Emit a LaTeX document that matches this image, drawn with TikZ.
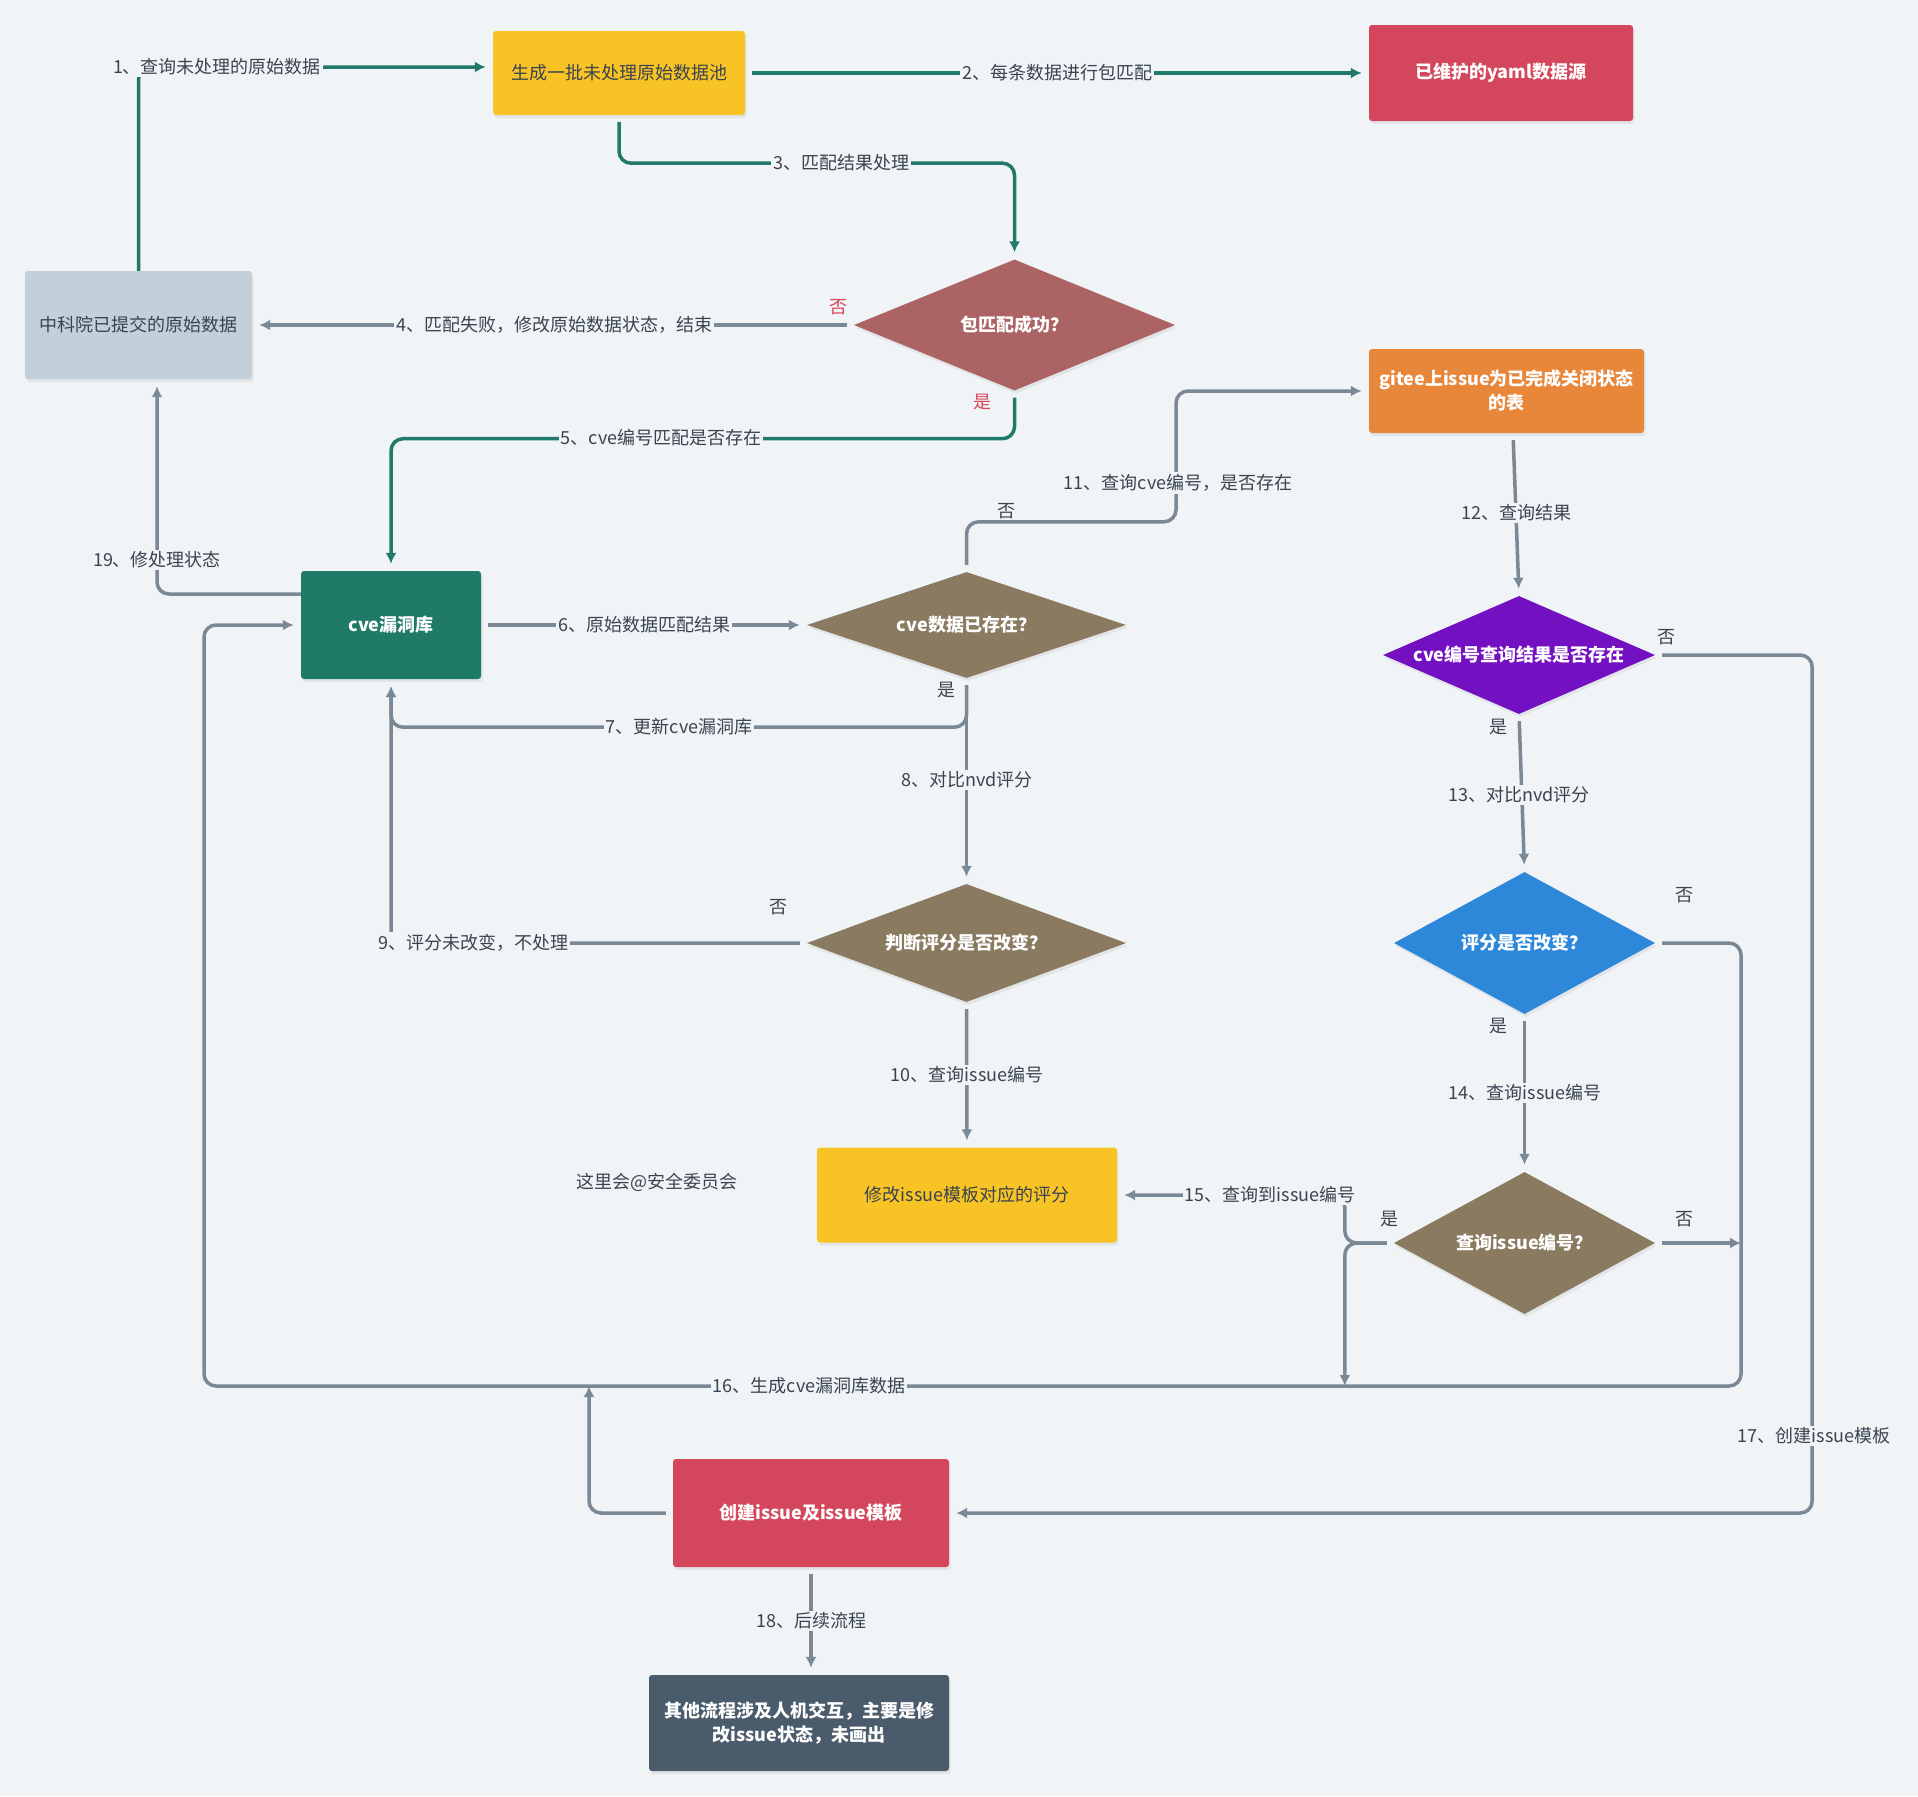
\documentclass[tikz,border=0pt]{standalone}
\usepackage{fontspec}
\setmainfont{Noto Sans CJK SC}
\usetikzlibrary{arrows.meta,shapes.geometric,shadows,calc}

\definecolor{bg}{HTML}{F0F4F7}
\definecolor{flowgreen}{HTML}{217A69}
\definecolor{flowgray}{HTML}{7B8896}
\definecolor{ink}{HTML}{3A4450}
\definecolor{alert}{HTML}{D9455A}
\definecolor{cyellow}{HTML}{F8C325}
\definecolor{cred}{HTML}{D4465C}
\definecolor{cgray}{HTML}{C3CFD9}
\definecolor{crose}{HTML}{AC6363}
\definecolor{corange}{HTML}{E8863A}
\definecolor{cteal}{HTML}{207A68}
\definecolor{cbrown}{HTML}{8A7A5F}
\definecolor{cpurple}{HTML}{7210C2}
\definecolor{cblue}{HTML}{2E88DA}
\definecolor{cslate}{HTML}{4A5B6B}

\tikzset{
  softshadow/.style={drop shadow={opacity=0.12, shadow xshift=1.5pt, shadow yshift=-3pt}},
  box/.style={rectangle, rounded corners=3pt, inner sep=0pt, align=center, softshadow,
    font=\fontsize{18}{24}\selectfont},
  wtext/.style={text=white, font=\bfseries\fontsize{18}{24}\selectfont},
  dia/.style={diamond, inner sep=0pt, softshadow, text=white,
    font=\bfseries\fontsize{18}{22}\selectfont},
  flow/.style={line width=3.5pt, rounded corners=12pt, shorten >=7pt, shorten <=7pt},
  gline/.style={flow, draw=flowgreen},
  sline/.style={flow, draw=flowgray},
  tip/.style={-{Latex[length=11pt,width=11pt]}},
  lbl/.style={fill=bg, inner sep=2pt, text=ink},
  yes/.style={text=alert},
}

\begin{document}
\begin{tikzpicture}[x=1pt, y=-1pt, font=\fontsize{18}{22}\selectfont, text=ink]
\fill[bg] (0,0) rectangle (1918,1796);

% process boxes and decisions
\node[box, fill=cyellow, text=ink, minimum width=252pt, minimum height=84pt] (pool) at (619,73) {生成一批未处理原始数据池};
\node[box, fill=cred, wtext, minimum width=264pt, minimum height=96pt] (yaml) at (1501,73) {已维护的yaml数据源};
\node[box, fill=cgray, text=ink, minimum width=227pt, minimum height=108pt] (raw) at (138.5,325) {中科院已提交的原始数据};
\node[dia, fill=crose, minimum width=321pt, minimum height=131pt] (match) at (1014.5,325) {\makebox[0pt]{包匹配成功？}};
\node[box, fill=corange, wtext, minimum width=275pt, minimum height=84pt] (gitee) at (1506.5,391) {gitee上issue为已完成关闭状态\\的表};
\node[box, fill=cteal, wtext, minimum width=180pt, minimum height=108pt] (cve) at (391,625) {cve漏洞库};
\node[dia, fill=cbrown, minimum width=319pt, minimum height=106pt] (exist) at (966.5,625) {\makebox[0pt]{cve数据已存在？}};
\node[dia, fill=cpurple, minimum width=272pt, minimum height=118pt] (found) at (1519,655) {\makebox[0pt]{cve编号查询结果是否存在}};
\node[dia, fill=cbrown, minimum width=319pt, minimum height=118pt] (score) at (966.5,943) {\makebox[0pt]{判断评分是否改变？}};
\node[dia, fill=cblue, minimum width=261pt, minimum height=142pt] (changed) at (1524.5,943) {\makebox[0pt]{评分是否改变？}};
\node[box, fill=cyellow, text=ink, minimum width=300pt, minimum height=95pt] (fix) at (967,1195) {修改issue模板对应的评分};
\node[dia, fill=cbrown, minimum width=261pt, minimum height=142pt] (issue) at (1524.5,1243) {\makebox[0pt]{查询issue编号？}};
\node[box, fill=cred, wtext, minimum width=276pt, minimum height=108pt] (create) at (811,1513) {创建issue及issue模板};
\node[box, fill=cslate, wtext, minimum width=300pt, minimum height=96pt] (other) at (799,1723) {其他流程涉及人机交互，主要是修\\改issue状态，未画出};
\node[text=ink] (note) at (657,1182) {这里会@安全委员会};

% junctions of the big return loop
\coordinate (j15) at ($(issue.west)+(-49,0)$);
\coordinate (loopSE) at (1741,1386);
\coordinate (loopSW) at (204,1386);
\coordinate (j20) at (589,1386);

% connectors
\draw[gline, tip, shorten <=0pt] (raw.north) |- ([yshift=6pt]pool.west);
\draw[gline, tip] (pool.east) -- (yaml.west);
\draw[gline, tip] (pool.south) -- ++(0,48) -| (match.north);
\draw[sline, tip] (match.west) -- (raw.east);
\draw[gline, tip] (match.south) -- ++(0,48) -| (cve.north);
\draw[sline, tip] (cve.east) -- (exist.west);
\draw[sline, tip] (exist.south) -- ++(0,49) -| (cve.south);
\draw[sline, tip] (exist.south) -- (score.north);
\draw[sline, tip] (score.west) -| (cve.south);
\draw[sline, tip] (score.south) -- (fix.north);
\draw[sline, tip] (exist.north) -- ++(0,-50) -- ++(209.5,0) |- (gitee.west);
\draw[sline, tip] ([xshift=6.5pt]gitee.south) -- (found.north);
\draw[sline, tip] (found.south) -- (changed.north);
\draw[sline, tip] (changed.south) -- (issue.north);
\draw[sline, tip] (issue.west) -- (j15) |- (fix.east);
\draw[sline, tip, shorten >=0pt] (issue.west) -- (j15) -- (j15 |- loopSE);
\draw[sline, tip] (changed.east) -| (loopSE) -- (loopSW) |- (cve.west);
\draw[sline, tip, shorten >=0pt] (issue.east) -- (issue.east -| loopSE);
\draw[sline, tip] (found.east) -- ++(157,0) |- (create.east);
\draw[sline, tip] (create.south) -- (create.south |- other.north);
\draw[sline, tip, shorten <=0pt] ([yshift=31pt]cve.west) -| ([xshift=18.5pt]raw.south);
\draw[sline, tip, shorten >=0pt] (create.west) -| (j20);

% connector labels
\node[lbl] (l1) at (217,67) {1、查询未处理的原始数据};
\node[lbl] (l2) at (1057,73) {2、每条数据进行包匹配};
\node[lbl] (l3) at (841,163) {3、匹配结果处理};
\node[lbl] (l4) at (554,325) {4、匹配失败，修改原始数据状态，结束};
\node[yes] (n4) at (838,307) {否};
\node[lbl] (l5) at (661,438) {5、cve编号匹配是否存在};
\node[yes] (y5) at (982,402) {是};
\node[lbl] (l6) at (644,625) {6、原始数据匹配结果};
\node[lbl] (l7) at (679,727) {7、更新cve漏洞库};
\node (y7) at (946,690) {是};
\node[lbl] (l8) at (967,780) {8、对比nvd评分};
\node[lbl] (l9) at (473,943) {9、评分未改变，不处理};
\node (n9) at (778,907) {否};
\node[lbl] (l10) at (967,1075) {10、查询issue编号};
\node[lbl] (l11) at (1178,483) {11、查询cve编号，是否存在};
\node (n11) at (1006,511) {否};
\node[lbl] (l12) at (1516,513) {12、查询结果};
\node[lbl] (l13) at (1519,795) {13、对比nvd评分};
\node (y13) at (1498,727) {是};
\node (n17) at (1666,637) {否};
\node[lbl] (l14) at (1525,1093) {14、查询issue编号};
\node (y14) at (1498,1026) {是};
\node (n14) at (1684,895) {否};
\node[lbl] (l15) at (1270,1195) {15、查询到issue编号};
\node (y15) at (1389,1219) {是};
\node (n16) at (1684,1219) {否};
\node[lbl] (l16) at (809,1386) {16、生成cve漏洞库数据};
\node[lbl] (l17) at (1814,1436) {17、创建issue模板};
\node[lbl] (l18) at (811,1621) {18、后续流程};
\node[lbl] (l19) at (157,560) {19、修处理状态};
\end{tikzpicture}
\end{document}
